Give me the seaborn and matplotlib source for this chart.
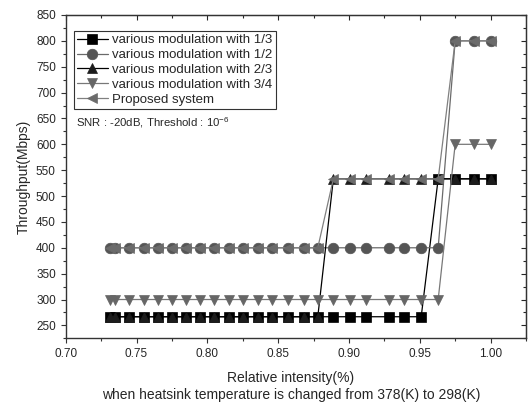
import matplotlib
matplotlib.use("Agg")
import matplotlib.pyplot as plt
import seaborn as sns
from matplotlib.ticker import MultipleLocator

# =========================
# DATA
# =========================
intensity = [0.731, 0.735, 0.745, 0.755, 0.765, 0.775, 0.785, 0.795, 0.805,
             0.815, 0.825, 0.836, 0.846, 0.857, 0.868, 0.878, 0.889, 0.901,
             0.912, 0.928, 0.939, 0.951, 0.963, 0.975, 0.988, 1.000]

thr_13 = [266.7, 266.7, 266.7, 266.7, 266.7, 266.7, 266.7, 266.7, 266.7,
          266.7, 266.7, 266.7, 266.7, 266.7, 266.7, 266.7, 266.7, 266.7,
          266.7, 266.7, 266.7, 266.7, 533.3, 533.3, 533.3, 533.3]
thr_12 = [400, 400, 400, 400, 400, 400, 400, 400, 400,
          400, 400, 400, 400, 400, 400, 400, 400, 400,
          400, 400, 400, 400, 400, 800, 800, 800]
thr_23 = [266.7, 266.7, 266.7, 266.7, 266.7, 266.7, 266.7, 266.7, 266.7,
          266.7, 266.7, 266.7, 266.7, 266.7, 266.7, 266.7, 533.3, 533.3,
          533.3, 533.3, 533.3, 533.3, 533.3, 533.3, 533.3, 533.3]
thr_34 = [300, 300, 300, 300, 300, 300, 300, 300, 300,
          300, 300, 300, 300, 300, 300, 300, 300, 300,
          300, 300, 300, 300, 300, 600, 600, 600]
thr_prop = [400, 400, 400, 400, 400, 400, 400, 400, 400,
            400, 400, 400, 400, 400, 400, 400, 533.3, 533.3,
            533.3, 533.3, 533.3, 533.3, 533.3, 800, 800, 800]

labels = ["various modulation with 1/3", "various modulation with 1/2",
          "various modulation with 2/3", "various modulation with 3/4",
          "Proposed system"]
series = [thr_13, thr_12, thr_23, thr_34, thr_prop]

# =========================
# STYLE
# =========================
markers = ["s", "o", "^", "v", "<"]
marker_colors = ["#000000", "#555555", "#1c1c1c", "#666666", "#6b6b6b"]
line_colors = ["#000000", "#6a6a6a", "#000000", "#787878", "#808080"]

sns.set_style("ticks")
plt.rcParams["font.family"] = ["Liberation Sans", "DejaVu Sans"]
plt.rcParams["mathtext.fontset"] = "custom"
plt.rcParams["mathtext.rm"] = "Liberation Sans"
plt.rcParams["mathtext.default"] = "regular"

fig = plt.figure(figsize=(5.28, 4.04), dpi=100)
ax = fig.add_axes([0.1244, 0.1626, 0.8718, 0.8003])

for y, lab, mk, mc, lc in zip(series, labels, markers, marker_colors, line_colors):
    sns.lineplot(x=intensity, y=y, ax=ax, sort=False, estimator=None,
                 color=lc, linewidth=0.9, marker=mk, markersize=7.6,
                 markerfacecolor=mc, markeredgecolor=mc, markeredgewidth=0.5,
                 label=lab)

ax.set_xlim(0.70, 1.025)
ax.set_ylim(225, 850)
ax.xaxis.set_major_locator(MultipleLocator(0.05))
ax.xaxis.set_minor_locator(MultipleLocator(0.025))
ax.yaxis.set_major_locator(MultipleLocator(50))
ax.yaxis.set_minor_locator(MultipleLocator(25))
ax.xaxis.set_major_formatter(plt.FuncFormatter(lambda v, p: f"{v:.2f}"))

for s in ax.spines.values():
    s.set_visible(True)
    s.set_linewidth(1.0)
    s.set_color("#333333")

ax.tick_params(which="major", direction="out", length=3.6, width=0.8,
               labelsize=8.5, color="#333333")
ax.tick_params(which="minor", direction="out", length=2.2, width=0.8,
               color="#333333")

# mirrored axes with inward ticks on top / right
top = ax.secondary_xaxis("top")
top.xaxis.set_major_locator(MultipleLocator(0.05))
top.xaxis.set_minor_locator(MultipleLocator(0.025))
top.tick_params(which="major", direction="in", length=3.6, width=0.8, labeltop=False)
top.tick_params(which="minor", direction="in", length=2.2, width=0.8)
right = ax.secondary_yaxis("right")
right.yaxis.set_major_locator(MultipleLocator(50))
right.yaxis.set_minor_locator(MultipleLocator(25))
right.tick_params(which="major", direction="in", length=3.6, width=0.8, labelright=False)
right.tick_params(which="minor", direction="in", length=2.2, width=0.8)

ax.set_ylabel("Throughput(Mbps)", fontsize=10, labelpad=4)
ax.set_xlabel("Relative intensity(%)\nwhen heatsink temperature is changed from 378(K) to 298(K)",
              fontsize=10, linespacing=1.35)
ax.xaxis.set_label_coords(0.489, -0.1, transform=ax.transAxes)
ax.xaxis.label.set_va("top")

leg = ax.legend(loc="upper left", bbox_to_anchor=(0.018, 0.951), borderaxespad=0,
                fontsize=9.5, frameon=True, fancybox=False, edgecolor="#333333",
                framealpha=1, handlelength=2.3, handletextpad=0.35,
                labelspacing=0.2, borderpad=0.25)
leg.get_frame().set_linewidth(0.8)

ax.text(0.022, 0.666, "SNR : -20dB, Threshold : $10^{-6}$", transform=ax.transAxes,
        fontsize=8.2, va="center", ha="left")

plt.savefig("out.png", dpi=100)
